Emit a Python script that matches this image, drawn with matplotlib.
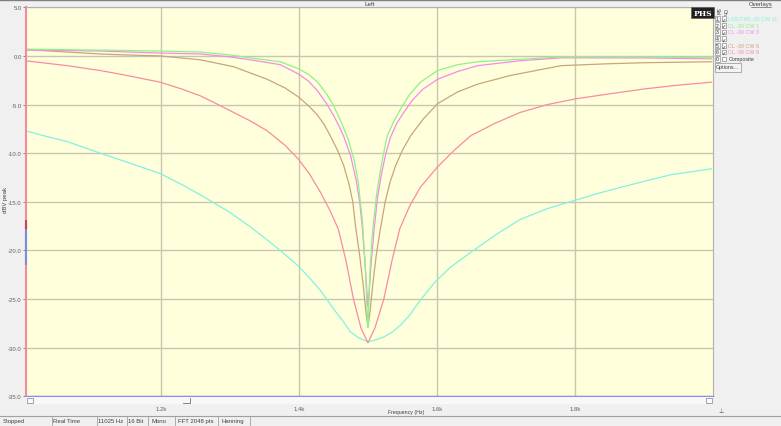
import matplotlib
matplotlib.use('Agg')
import matplotlib.pyplot as plt
from matplotlib.patches import Rectangle
from matplotlib.lines import Line2D

# ---------------- data ----------------
title = "Left"
y_label = "dBV peak"
x_label = "Frequency (Hz)"
x_ticks = [1200, 1400, 1600, 1800]
x_tick_labels = ["1.2k", "1.4k", "1.6k", "1.8k"]
y_ticks = [5, 0, -5, -10, -15, -20, -25, -30, -35]
y_tick_labels = ["5.0", "0.0", "-5.0", "-10.0", "-15.0", "-20.0", "-25.0", "-30.0", "-35.0"]

series_names = ["LSS-CWL-30 CW 11", "CL -30 CW 1", "CL -30 CW 3", "CL -30 CW 6", "CL -30 CW 9"]
series_colors = ["#7ff3df", "#8ef28a", "#f58be6", "#c8a57a", "#fb8aa0"]

f_cw11 = [1004, 1030, 1064, 1112, 1150, 1199, 1235, 1272, 1300, 1330, 1350, 1373, 1399,
          1415, 1431, 1450, 1463, 1475, 1487, 1500, 1511, 1523, 1535, 1547, 1560, 1572,
          1585, 1598, 1620, 1649, 1685, 1721, 1760, 1802, 1835, 1867, 1900, 1940, 1970, 1998]
db_cw11 = [-7.7, -8.2, -8.8, -10.0, -10.9, -12.1, -13.4, -14.9, -16.1, -17.6, -18.7, -20.0, -21.6,
           -22.8, -24.1, -26.0, -27.2, -28.4, -29.0, -29.4, -29.2, -28.9, -28.4, -27.7, -26.7, -25.5,
           -24.3, -23.2, -21.7, -20.2, -18.4, -16.8, -15.7, -14.8, -14.1, -13.5, -12.9, -12.2, -11.9, -11.6]

f_cw1 = [1004, 1112, 1199, 1257, 1300, 1330, 1373, 1399, 1414, 1427, 1440, 1450, 1460, 1471,
         1480, 1486, 1492, 1496, 1499, 1500, 1501, 1503, 1507, 1512, 1518, 1523, 1528, 1537,
         1547, 1560, 1576, 1601, 1630, 1659, 1732, 1780, 1850, 1900, 1998]
db_cw1 = [0.7, 0.6, 0.5, 0.4, 0.1, -0.2, -0.6, -1.3, -1.9, -2.7, -3.9, -5.1, -6.6, -8.5,
          -10.7, -13.0, -17.0, -21.5, -26.5, -27.9, -26.0, -22.0, -17.8, -14.5, -11.8, -9.9, -8.2, -6.8,
          -5.5, -4.0, -2.7, -1.5, -0.9, -0.6, -0.3, -0.1, -0.1, -0.1, -0.2]

f_cw3 = [1004, 1112, 1199, 1257, 1300, 1330, 1373, 1399, 1414, 1427, 1440, 1450, 1458, 1465,
         1475, 1483, 1488, 1492, 1496, 1499, 1500, 1502, 1505, 1509, 1514, 1520, 1526, 1533,
         1542, 1552, 1565, 1580, 1601, 1630, 1659, 1720, 1780, 1900, 1998]
db_cw3 = [0.6, 0.5, 0.3, 0.2, -0.1, -0.4, -0.9, -1.85, -2.6, -3.6, -4.9, -6.1, -7.2, -8.3,
          -10.3, -12.8, -15.0, -17.8, -21.5, -24.8, -25.8, -24.0, -21.0, -17.8, -14.5, -12.0, -10.0, -8.3,
          -6.9, -5.8, -4.5, -3.4, -2.4, -1.6, -1.0, -0.5, -0.2, -0.2, -0.3]

f_cw6 = [1004, 1064, 1112, 1150, 1199, 1257, 1305, 1354, 1380, 1399, 1415, 1427, 1437, 1446,
         1456, 1465, 1473, 1478, 1482, 1488, 1493, 1497, 1500, 1503, 1507, 1512, 1518, 1525,
         1532, 1540, 1550, 1562, 1580, 1601, 1630, 1659, 1707, 1780, 1850, 1900, 1998]
db_cw6 = [0.65, 0.4, 0.2, 0.1, 0.0, -0.4, -1.1, -2.4, -3.3, -4.2, -5.2, -6.1, -7.1, -8.3,
          -9.7, -11.3, -13.3, -15.0, -17.5, -20.5, -23.5, -26.3, -27.9, -26.3, -23.5, -20.5, -17.8, -15.0,
          -13.0, -11.3, -9.7, -8.2, -6.5, -4.9, -3.7, -2.9, -2.0, -1.0, -0.8, -0.7, -0.6]

f_cw9 = [1004, 1064, 1112, 1150, 1199, 1230, 1257, 1280, 1305, 1330, 1354, 1380, 1399, 1415,
         1431, 1445, 1457, 1468, 1479, 1490, 1500, 1510, 1523, 1535, 1546, 1560, 1576, 1601,
         1625, 1649, 1685, 1721, 1760, 1802, 1850, 1900, 1950, 1998]
db_cw9 = [-0.5, -1.0, -1.5, -2.0, -2.7, -3.4, -4.1, -4.9, -5.8, -6.7, -7.7, -9.2, -10.6, -12.1,
          -14.0, -15.9, -17.8, -21.0, -25.0, -28.0, -29.5, -28.0, -25.0, -21.0, -17.8, -15.5, -13.5, -11.4,
          -9.7, -8.2, -6.9, -5.8, -5.0, -4.4, -3.9, -3.4, -3.0, -2.7]

status_fields = ["Stopped", "Real Time", "11025 Hz", "16 Bit", "Mono", "FFT 2048 pts", "Hanning"]

# ---------------- figure ----------------
W, H = 781, 427
plt.rcParams['font.family'] = ['Liberation Sans', 'DejaVu Sans']
fig = plt.figure(figsize=(W / 100, H / 100), dpi=100)
fig.patch.set_facecolor('#f0f0f0')

def fx(x):
    return x / W

def fy(y):
    return 1 - y / H

L, R, T, B = 26, 713, 8.3, 397.3
ax = fig.add_axes([fx(L), fy(B), (R - L) / W, (B - T) / H])
ax.set_facecolor('#ffffdc')
ax.set_xlim(1004.5, 2000)
ax.set_ylim(-35, 5)
ax.set_xticks(x_ticks)
ax.set_xticklabels(x_tick_labels)
ax.set_yticks(y_ticks)
ax.set_yticklabels(y_tick_labels)
ax.tick_params(axis='both', labelsize=4.3, colors='#707070', labelcolor='#606060', length=2, width=0.6)
ax.tick_params(axis='x', pad=7, length=0)
ax.tick_params(axis='y', pad=1)
ax.grid(True, color='#c9c6b0', lw=1.0)
ax.set_axisbelow(True)
for s in ['top', 'right']:
    ax.spines[s].set_color('#b0b0b0')
    ax.spines[s].set_linewidth(0.8)
ax.spines['left'].set_color('#f58a9c')
ax.spines['left'].set_linewidth(1.5)
ax.spines['bottom'].set_color('#8c8cf0')
ax.spines['bottom'].set_linewidth(1.0)

for f, d, c in [(f_cw11, db_cw11, series_colors[0]), (f_cw9, db_cw9, series_colors[4]),
                (f_cw6, db_cw6, series_colors[3]), (f_cw3, db_cw3, series_colors[2]),
                (f_cw1, db_cw1, series_colors[1])]:
    ax.plot(f, d, color=c, lw=0.9, solid_joinstyle='round')

# cursor marks on left edge
fig.add_artist(Line2D([fx(25.5), fx(25.5)], [fy(227), fy(265)], color='#7c8ce0', lw=1.5))
fig.add_artist(Line2D([fx(25.5), fx(25.5)], [fy(222), fy(229)], color='#d04060', lw=1.5))

# title bar
fig.add_artist(Line2D([0, 1], [fy(0.5), fy(0.5)], color='#808080', lw=1))
fig.text(fx(370), fy(4), title, fontsize=4.5, color='#404040', ha='center', va='center')

# y label
fig.text(fx(6), fy(200), y_label, fontsize=4.3, color='#404040', rotation=90, ha='center', va='center')

# scroll strip under plot
fig.add_artist(Rectangle((fx(L), fy(405)), (R - L) / W, 7.5 / H, transform=fig.transFigure,
                         facecolor='#f8f8f8', edgecolor='none'))
for bx in [27, 706]:
    fig.add_artist(Rectangle((fx(bx), fy(404)), 6 / W, 5.5 / H, transform=fig.transFigure,
                             facecolor='#fafafa', edgecolor='#808080', lw=0.5))
fig.add_artist(Line2D([fx(183), fx(190), fx(190)], [fy(403.5), fy(403.5), fy(399)], color='#707070', lw=0.6))
fig.text(fx(388), fy(413), x_label, fontsize=3.8, color='#404040', ha='left', va='center')
fig.text(fx(721), fy(412), "\u22a5", fontsize=4.5, color='#505050', ha='center', va='center',
         family=['DejaVu Sans'])

# status bar
fig.add_artist(Line2D([0, 1], [fy(416.5), fy(416.5)], color='#a0a0a0', lw=0.8))
seps = [52, 97, 127, 148, 175, 218, 250]
starts = [3, 53, 98, 128, 152, 178, 222]
for s in seps:
    fig.add_artist(Line2D([fx(s), fx(s)], [fy(418), fy(426)], color='#a0a0a0', lw=0.6))
for x0, t in zip(starts, status_fields):
    fig.text(fx(x0), fy(422), t, fontsize=4.3, color='#404040', ha='left', va='center')

# PHS badge
fig.text(fx(702.5), fy(13.5), "PHS", fontsize=5.5, color='white', family=['DejaVu Serif'],
         weight='bold', ha='center', va='center',
         bbox=dict(boxstyle='square,pad=0.25', facecolor='#202020', edgecolor='#606060', lw=0.5))

# overlay legend panel
fig.text(fx(761), fy(4.5), "Overlays", fontsize=4.3, color='#404040', ha='center', va='center')
fig.add_artist(Line2D([fx(751), fx(771)], [fy(7.5), fy(7.5)], color='#404040', lw=0.4))
fig.text(fx(717), fy(12), "Sel", fontsize=3.6, color='#404040', rotation=270, ha='center', va='center')
fig.text(fx(724), fy(12), "On", fontsize=3.6, color='#404040', rotation=270, ha='center', va='center')
row_y = [19.5, 26.2, 32.9, 39.6, 46.3, 53.0]
row_labels = [series_names[0], series_names[1], series_names[2], "", series_names[3], series_names[4]]
row_colors = [series_colors[0], series_colors[1], series_colors[2], '#404040', series_colors[3], series_colors[4]]
for i, (yy, lab, col) in enumerate(zip(row_y, row_labels, row_colors)):
    fig.add_artist(Rectangle((fx(714.5), fy(yy + 2.8)), 5.5 / W, 5.6 / H, transform=fig.transFigure,
                             facecolor='#f4f4f4', edgecolor='#808080', lw=0.4))
    fig.text(fx(717.2), fy(yy), str(i + 1), fontsize=3.6, color='#303030', ha='center', va='center')
    fig.add_artist(Rectangle((fx(721.5), fy(yy + 2.3)), 4.6 / W, 4.6 / H, transform=fig.transFigure,
                             facecolor='white', edgecolor='#707070', lw=0.4))
    fig.text(fx(723.8), fy(yy), "\u2713", fontsize=3.8, color='#202020', ha='center', va='center',
             family=['DejaVu Sans'])
    if lab:
        fig.text(fx(728.5), fy(yy), lab, fontsize=3.9, color=col, ha='left', va='center')
yy = 59.8
fig.add_artist(Rectangle((fx(714.5), fy(yy + 2.8)), 5.5 / W, 5.6 / H, transform=fig.transFigure,
                         facecolor='#f4f4f4', edgecolor='#808080', lw=0.4))
fig.text(fx(717.2), fy(yy), "0", fontsize=3.6, color='#303030', ha='center', va='center')
fig.add_artist(Rectangle((fx(721.5), fy(yy + 2.3)), 4.6 / W, 4.6 / H, transform=fig.transFigure,
                         facecolor='white', edgecolor='#707070', lw=0.4))
fig.text(fx(728.5), fy(yy), "Composite", fontsize=3.9, color='#404040', ha='left', va='center')
fig.add_artist(Rectangle((fx(714.5), fy(72.5)), 26 / W, 9 / H, transform=fig.transFigure,
                         facecolor='#f4f4f4', edgecolor='#909090', lw=0.5))
fig.text(fx(727.5), fy(68), "Options...", fontsize=3.9, color='#404040', ha='center', va='center')

fig.savefig('out.png', dpi=100, facecolor=fig.get_facecolor())
